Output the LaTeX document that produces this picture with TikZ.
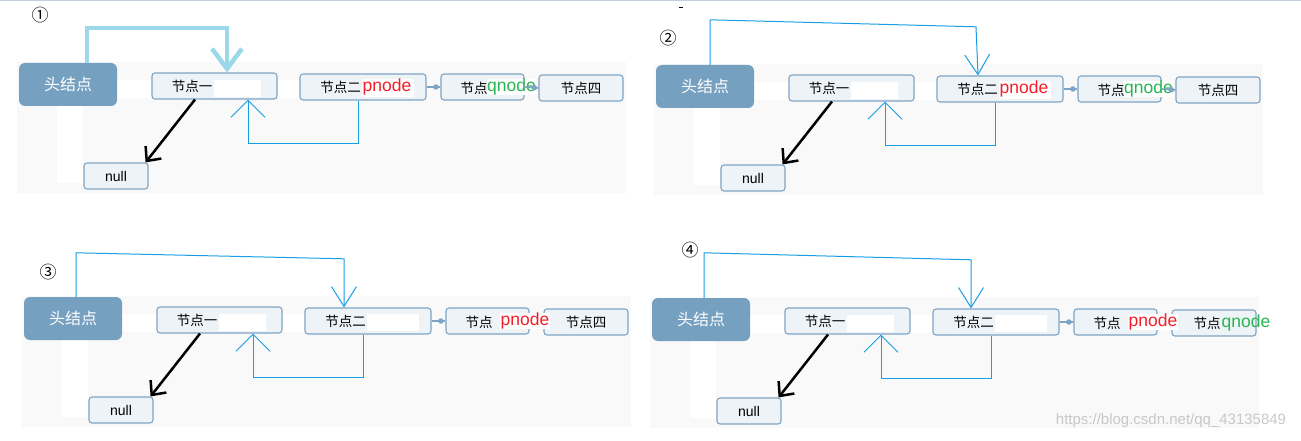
\documentclass[tikz,border=0pt]{standalone}
\usepackage{fontspec}
\setmainfont{Liberation Sans}
\newfontfamily\cjk{Noto Sans CJK SC}
\usetikzlibrary{arrows.meta,positioning}
\definecolor{headc}{RGB}{118,160,192}
\definecolor{boxfill}{RGB}{238,243,247}
\definecolor{boxdraw}{RGB}{126,164,196}
\definecolor{bgc}{RGB}{249,249,249}
\definecolor{lightarr}{RGB}{154,216,234}
\definecolor{bluearr}{RGB}{24,158,228}
\definecolor{dotc}{RGB}{127,163,196}
\definecolor{pred}{RGB}{245,30,40}
\definecolor{qgreen}{RGB}{40,180,80}
\definecolor{wmark}{RGB}{200,200,200}
\definecolor{topline}{RGB}{197,208,222}

\begin{document}
\begin{tikzpicture}[x=1pt, y=-1pt, >={Straight Barb},
  box/.style={draw=boxdraw, fill=boxfill, line width=1.1pt, rounded corners=3pt, minimum height=26pt, inner sep=0pt},
  headbox/.style={fill=headc, rounded corners=6pt, minimum width=98pt, minimum height=43pt, text=white, font=\cjk\fontsize{16}{18}\selectfont},
  cn/.style={font=\cjk\fontsize{13.5}{15}\selectfont, inner sep=0pt},
  num/.style={font=\cjk\fontsize{17}{19}\selectfont, inner sep=0pt},
  tag/.style={font=\fontsize{17.5}{19}\selectfont, fill=white, inner sep=0.3pt},
  link/.style={draw=dotc, line width=1.6pt},
  knob/.style={circle, fill=dotc, minimum size=5.5pt, inner sep=0pt},
  back/.style={->, bluearr, line width=1pt}]
  \useasboundingbox (0,0) rectangle (1301,441);
  \draw[topline, line width=1.5pt] (0,0.75) -- (1301,0.75);
  % the four steps share one layout
  \foreach \i/\dx/\dy in {1/0/0, 2/637/2, 3/5/234, 4/633/235} {
    \begin{scope}[shift={(\dx,\dy)}]
      \fill[bgc] (17,62) rectangle (626,193);
      \fill[white] (57,106) rectangle (83,183);
      \fill[white] (117,80) rectangle (152,98);
      \fill[white] (277,80) rectangle (300,98);
      \node[headbox] (h\i) at (68,84.5) {头结点};
      \node[box, minimum width=125pt] (a\i) at (214.5,86) {};
      \node[box, minimum width=126pt] (b\i) at (363,87) {};
      \node[box, minimum width=83pt] (c\i) at (482.5,87) {};
      \node[box, minimum width=84pt] (d\i) at (581,88) {};
      \node[box, minimum width=64pt, font=\fontsize{14}{16}\selectfont] (z\i) at (116,176) {null};
      % erased text
      \fill[white] (214,80) rectangle (261,97);
      \fill[white] (362,80) rectangle (414,97);
      \node[cn] (ta\i) at (192,86) {节点一};
      \node[cn] (tb\i) at (340.5,87) {节点二};
      \node[cn] (tc\i) at (474,88) {节点};
      \draw[link] (b\i.east) -- (c\i.west) node[knob, pos=0.67] (k\i) {};
      \draw[->, line width=2.5pt, >={Straight Barb[length=11pt,width=20pt]}] ([xshift=-19.5]a\i.south) -- ([xshift=-3]z\i.north east);
      \draw[back, >={Straight Barb[length=17pt,width=34pt]}] ([xshift=-5]b\i.south) -- ++(0,43) -| ([xshift=33.5]a\i.south);
    \end{scope}
  }
  % step labels
  \node[num] (s1) at (40,15) {①};
  \node[num] (s2) at (668,38) {②};
  \node[num] (s3) at (48,272) {③};
  \node[num] (s4) at (690,250) {④};
  \draw[line width=0.8pt] (679,7) -- (683,7);
  % pointers
  \foreach \i in {1,2} {
    \node[tag, text=pred] (p\i) at ([xshift=24]b\i.center) {pnode};
    \node[tag, text=qgreen] (q\i) at ([xshift=29]c\i.center) {qnode};
    \draw[link] (c\i.east) -- (d\i.west) node[knob, pos=0.7] (m\i) {};
  }
  \foreach \i in {3,4}
    \node[tag, text=pred] (p\i) at ([xshift=37.5]c\i.center) {pnode};
  \foreach \i in {1,2,3}
    \node[cn] (td\i) at (d\i) {节点四};
  \node[cn] (td4) at ([xshift=-7]d4.center) {节点};
  \node[tag, text=qgreen, fill=none] (q4) at ([xshift=32]d4.center) {qnode};
  % head pointer moves
  \draw[->, lightarr, line width=4.5pt, >={Straight Barb[length=20pt,width=30pt]}] ([xshift=19]h1.north) -- ++(0,-35) -| ([xshift=12.5]a1.north);
  \draw[back, >={Straight Barb[length=20pt,width=25pt]}] ([xshift=5]h2.north) -- ++(0,-45) -- ++(266,7) -- ([xshift=-22]b2.north);
  \draw[back, >={Straight Barb[length=20pt,width=25pt]}] ([xshift=3]h3.north) -- ++(0,-44) -- ++(268,6) -- ([xshift=-24]b3.north);
  \draw[back, >={Straight Barb[length=20pt,width=25pt]}] ([xshift=3]h4.north) -- ++(0,-45) -- ++(267,7) -- ([xshift=-25]b4.north);
  \node[font=\fontsize{15}{17}\selectfont, text=wmark] (wm) at (1171,421) {https://blog.csdn.net/qq\_43135849};
\end{tikzpicture}
\end{document}
